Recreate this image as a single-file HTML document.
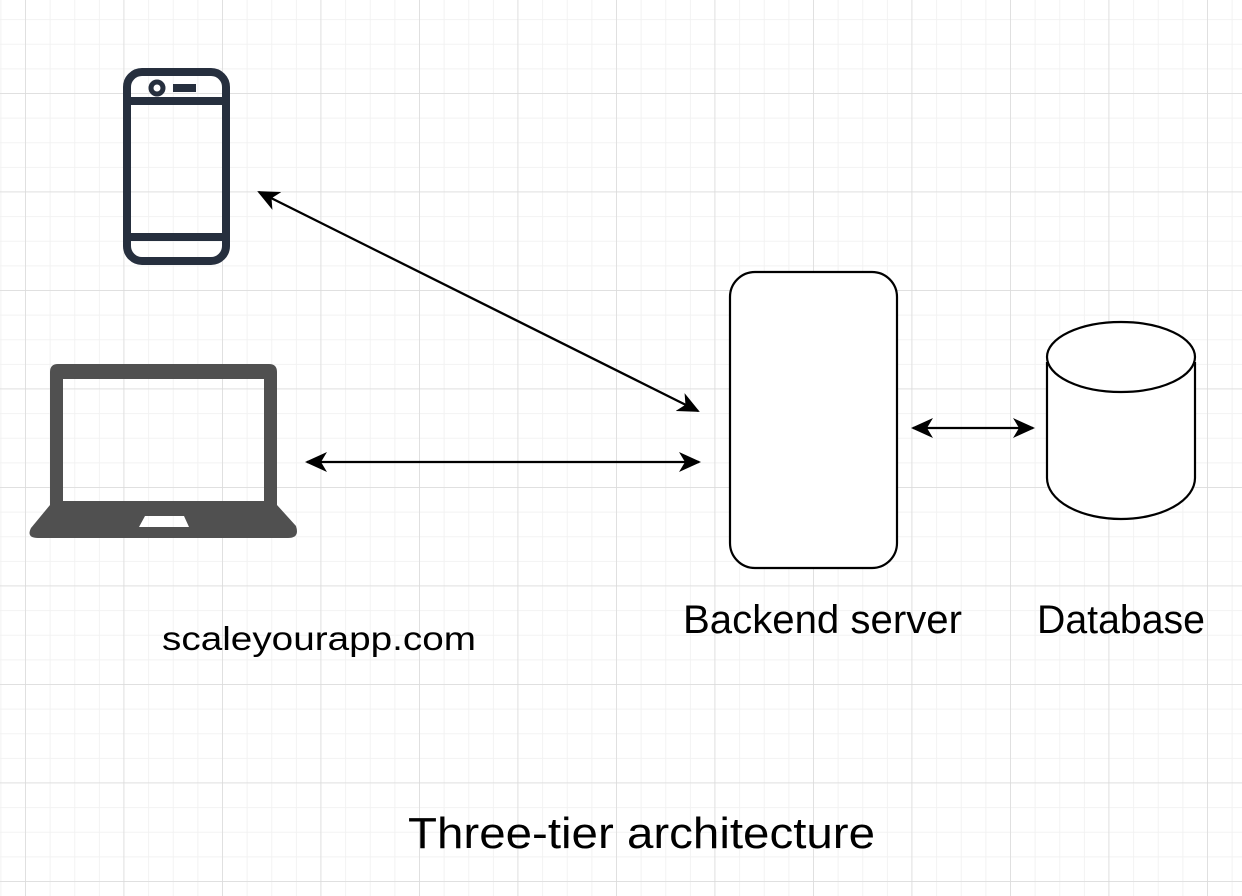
<!DOCTYPE html>
<html><head><meta charset="utf-8"><style>
html,body{margin:0;padding:0;background:#fff;}
svg{display:block;}
text{font-family:"Liberation Sans",sans-serif;fill:#000;}
</style></head><body>
<svg width="1242" height="896" viewBox="0 0 1242 896" xmlns="http://www.w3.org/2000/svg">
<defs>
<pattern id="minor" x="25" y="-5.5" width="24.625" height="24.625" patternUnits="userSpaceOnUse">
<path d="M0 0V24.625M0 0H24.625" stroke="#f2f2f2" stroke-width="2" fill="none"/>
</pattern>
<pattern id="major" x="25" y="-5.5" width="98.5" height="98.5" patternUnits="userSpaceOnUse">
<path d="M0 0V98.5M0 0H98.5" stroke="#dadada" stroke-width="1.5" fill="none"/>
</pattern>
<marker id="ah" viewBox="0 0 22 22" refX="20" refY="11" markerWidth="22" markerHeight="22" markerUnits="userSpaceOnUse" orient="auto-start-reverse">
<path d="M0 1 L22 11 L0 21 L6 11 Z" fill="#000"/>
</marker>
</defs>
<rect width="1242" height="896" fill="#fff"/>
<rect width="1242" height="896" fill="url(#minor)"/>
<rect width="1242" height="896" fill="url(#major)"/>

<!-- phone -->
<g fill="none" stroke="#262f3e" stroke-width="8">
<rect x="127" y="72" width="99" height="189" rx="15"/>
<line x1="127" y1="101" x2="226" y2="101"/>
<line x1="127" y1="237" x2="226" y2="237"/>
</g>
<circle cx="157" cy="88" r="6" fill="none" stroke="#262f3e" stroke-width="5"/>
<rect x="173" y="84" width="23" height="8" fill="#262f3e"/>

<!-- laptop -->
<path fill="#505050" fill-rule="evenodd" d="M58 364 H269 Q277 364 277 372 V505 L296 526 Q300 538 288 538 H38 Q26 538 31 528 L50 505 V372 Q50 364 58 364 Z M63 379 V501 H264 V379 Z M145 516 L139 527 H189 L184 516 Z"/>

<!-- server -->
<rect x="730" y="272" width="167" height="296" rx="25" fill="#fff" stroke="#000" stroke-width="2.2"/>

<!-- database -->
<path d="M1047 362 V478 A74 41 0 0 0 1195 478 V362" fill="#fff" stroke="#000" stroke-width="2.2"/>
<ellipse cx="1121" cy="357" rx="74" ry="35" fill="#fff" stroke="#000" stroke-width="2.2"/>

<!-- arrows -->
<g stroke="#000" stroke-width="2.3" fill="none">
<line x1="259" y1="192" x2="698" y2="411" marker-start="url(#ah)" marker-end="url(#ah)"/>
<line x1="307" y1="462" x2="699" y2="462" marker-start="url(#ah)" marker-end="url(#ah)"/>
<line x1="913" y1="428" x2="1033" y2="428" marker-start="url(#ah)" marker-end="url(#ah)"/>
</g>

<text x="162" y="650" font-size="33" textLength="314" lengthAdjust="spacingAndGlyphs">scaleyourapp.com</text>
<text x="683" y="633" font-size="40" textLength="279" lengthAdjust="spacingAndGlyphs">Backend server</text>
<text x="1037" y="633" font-size="40" textLength="168" lengthAdjust="spacingAndGlyphs">Database</text>
<text x="408" y="848" font-size="44" textLength="467" lengthAdjust="spacingAndGlyphs">Three-tier architecture</text>
</svg>
</body></html>
